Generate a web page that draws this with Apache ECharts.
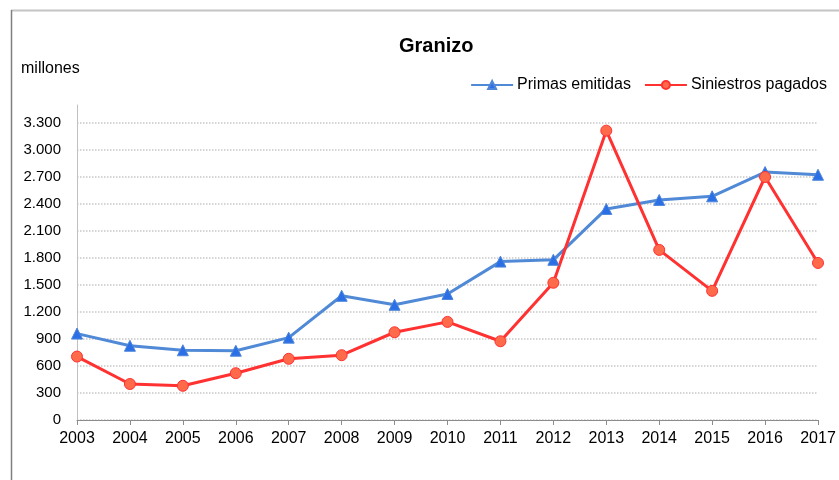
<!DOCTYPE html>
<html>
<head>
<meta charset="utf-8">
<script src="https://cdn.jsdelivr.net/npm/echarts@6/dist/echarts.min.js"></script>
<style>
  html, body { margin: 0; padding: 0; background: #fff; }
  #main { width: 839px; height: 480px; }
</style>
</head>
<body>
<div id="main"></div>
<script>
var years = ['2003','2004','2005','2006','2007','2008','2009','2010','2011','2012','2013','2014','2015','2016','2017'];
var primas = [960, 825, 775, 770, 915, 1380, 1280, 1400, 1760, 1780, 2345, 2445, 2485, 2755, 2725];
var siniestros = [705, 400, 380, 520, 680, 720, 975, 1090, 875, 1525, 3215, 1890, 1435, 2700, 1745];

var chart = echarts.init(document.getElementById('main'));

// separador de miles con punto
var fmt = function (v) {
  return String(v).replace(/\B(?=(\d{3})+(?!\d))/g, '.');
};

chart.setOption({
  backgroundColor: '#fff',
  animation: false,
  textStyle: { fontFamily: 'Liberation Sans, Arial, sans-serif' },
  graphic: [
    { type: 'line', shape: { x1: 11, y1: 10.5, x2: 839, y2: 10.5 }, style: { stroke: '#c4c4c4', lineWidth: 2 } },
    { type: 'line', shape: { x1: 11.5, y1: 10, x2: 11.5, y2: 480 }, style: { stroke: '#808080', lineWidth: 1.5 } },
    { type: 'text', left: 21, top: 61, style: { text: 'millones', font: '16px Liberation Sans', fill: '#000' } }
  ],
  title: {
    text: 'Granizo',
    left: 394,
    top: 31,
    textStyle: { fontSize: 20, fontWeight: 'bold', color: '#000', fontFamily: 'Liberation Sans' }
  },
  legend: {
    right: 7,
    top: 72,
    itemWidth: 42,
    itemHeight: 10,
    itemGap: 13,
    textStyle: { fontSize: 16, color: '#000', fontFamily: 'Liberation Sans', padding: [0, 0, 0, -1] },
    data: ['Primas emitidas', 'Siniestros pagados']
  },
  grid: { left: 77, right: 21, top: 105, bottom: 60, containLabel: false },
  xAxis: {
    type: 'category',
    data: years,
    boundaryGap: false,
    axisLine: { lineStyle: { color: '#8c8c8c', width: 1 } },
    axisTick: { show: true, alignWithLabel: true, length: 5, lineStyle: { color: '#8c8c8c' } },
    axisLabel: { color: '#000', fontSize: 16, margin: 11 }
  },
  yAxis: {
    type: 'value',
    min: 0,
    max: 3500,
    interval: 300,
    axisLine: { show: true, lineStyle: { color: '#c0c0c0', width: 1 } },
    axisTick: { show: false },
    axisLabel: { color: '#000', fontSize: 15, margin: 16, showMaxLabel: false, formatter: fmt },
    splitLine: { show: true, showMaxLine: false, lineStyle: { color: '#c8c8c8', type: 'dotted', width: 1.5 } }
  },
  series: [
    {
      name: 'Primas emitidas',
      type: 'line',
      data: primas,
      symbol: 'triangle',
      symbolSize: 11,
      lineStyle: { color: '#5089d6', width: 3 },
      itemStyle: { color: '#2a6fe6', borderColor: '#4f86d8', borderWidth: 1 }
    },
    {
      name: 'Siniestros pagados',
      type: 'line',
      data: siniestros,
      symbol: 'circle',
      symbolSize: 11,
      lineStyle: { color: '#ff3131', width: 3 },
      itemStyle: { color: '#ff6a4a', borderColor: '#ff3131', borderWidth: 1 }
    }
  ]
});
</script>
</body>
</html>
